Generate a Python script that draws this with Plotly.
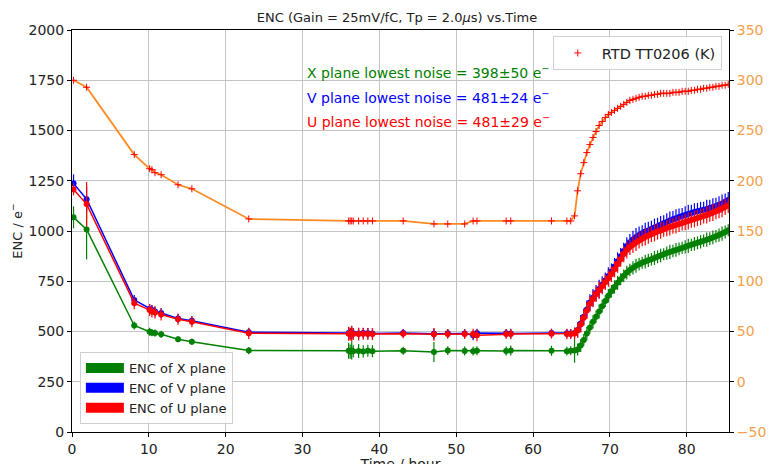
import plotly.graph_objects as go

# Zeitachse in Stunden
time_h = [0.2, 1.9, 8.1, 10.1, 10.4, 10.8, 11.6, 13.8, 15.6, 23.0,
          36.0, 36.2, 36.4, 36.6, 37.3, 37.9, 38.5, 39.1, 43.1, 47.1,
          48.9, 51.1, 52.2, 52.7, 56.5, 57.1, 62.4, 64.4, 64.9, 65.4,
          65.8, 66.2, 66.6, 67.0, 67.4, 67.8, 68.2, 68.6, 69.0, 69.4,
          69.8, 70.2, 70.6, 71.0, 71.4, 71.8, 72.2, 72.6, 73.0, 73.4,
          73.8, 74.2, 74.6, 75.0, 75.4, 75.8, 76.2, 76.6, 77.0, 77.4,
          77.8, 78.2, 78.6, 79.0, 79.4, 79.8, 80.2, 80.6, 81.0, 81.4,
          81.8, 82.2, 82.6, 83.0, 83.4, 83.8, 84.2, 84.6, 85.0, 85.4]

# RTD TT0206 Temperatur in K
temp_k = [300, 293, 226, 212, 211, 208, 206, 196, 192, 162,
          160, 160, 160, 160, 160, 160, 160, 160, 160, 157,
          157, 157, 160, 160, 160, 160, 160, 160, 160, 165,
          190, 207, 218, 228, 236, 243, 249, 255, 259, 263,
          266, 268, 270, 272, 274, 276, 278, 280, 281, 282,
          283, 284, 284, 285, 285, 286, 286, 287, 287, 287,
          287, 288, 288, 288, 289, 289, 289, 290, 290, 291,
          291, 292, 292, 293, 293, 294, 294, 295, 295, 296]

# ENC X plane
enc_x = [1068, 1008, 530, 499, 494, 492, 486, 461, 449, 405,
         404, 400, 406, 402, 403, 401, 404, 402, 404, 398,
         405, 403, 402, 404, 403, 405, 404, 402, 404, 405,
         410, 430, 458, 490, 520, 548, 574, 600, 626, 652,
         678, 700, 722, 742, 760, 777, 793, 806, 817, 827,
         835, 842, 848, 854, 859, 866, 872, 878, 884, 890,
         896, 901, 906, 911, 916, 921, 926, 931, 936, 941,
         946, 952, 957, 962, 968, 974, 980, 987, 995, 1004]
err_x = [55, 150, 20, 20, 18, 18, 18, 15, 15, 18,
         40, 35, 45, 30, 35, 30, 30, 30, 20, 50,
         22, 22, 22, 22, 22, 25, 25, 22, 22, 60,
         30, 32, 30, 34, 31, 33, 30, 35, 32, 30,
         34, 31, 33, 35, 30, 32, 34, 31, 33, 35,
         32, 30, 34, 33, 31, 35, 32, 34, 30, 33,
         35, 31, 34, 32, 30, 33, 35, 31, 34, 32,
         33, 30, 35, 32, 34, 31, 33, 35, 32, 30]

# ENC V plane
enc_v = [1237, 1158, 657, 612, 607, 600, 592, 565, 553, 496,
         492, 490, 493, 491, 490, 492, 491, 490, 492, 489,
         491, 490, 481, 492, 491, 490, 492, 491, 490, 493,
         508, 540, 574, 610, 644, 668, 691, 712, 733, 754,
         776, 798, 823, 849, 875, 900, 925, 944, 958, 970,
         980, 989, 997, 1003, 1010, 1017, 1024, 1031, 1038, 1045,
         1052, 1058, 1064, 1070, 1075, 1080, 1085, 1090, 1094, 1098,
         1102, 1106, 1110, 1114, 1119, 1124, 1130, 1137, 1145, 1154]
err_v = [45, 60, 25, 25, 25, 25, 25, 22, 22, 22,
         30, 28, 32, 26, 28, 26, 26, 26, 20, 26,
         22, 22, 24, 22, 22, 24, 22, 22, 22, 26,
         38, 42, 40, 44, 41, 43, 40, 45, 42, 40,
         44, 41, 43, 45, 40, 42, 44, 41, 43, 45,
         42, 40, 44, 43, 41, 45, 42, 44, 40, 43,
         45, 41, 44, 42, 40, 43, 45, 41, 44, 42,
         43, 40, 45, 42, 44, 41, 43, 45, 42, 40]

# ENC U plane
enc_u = [1207, 1134, 641, 607, 600, 595, 585, 561, 549, 491,
         489, 487, 490, 488, 487, 489, 488, 487, 489, 486,
         488, 487, 488, 481, 488, 487, 489, 488, 487, 490,
         505, 535, 568, 605, 638, 662, 685, 705, 725, 745,
         765, 785, 810, 835, 860, 885, 905, 920, 932, 943,
         953, 962, 970, 977, 984, 991, 997, 1003, 1009, 1015,
         1020, 1025, 1030, 1035, 1040, 1045, 1050, 1055, 1060, 1065,
         1070, 1075, 1080, 1086, 1092, 1098, 1105, 1112, 1120, 1128]
err_u = [30, 110, 30, 30, 30, 30, 30, 28, 28, 28,
         35, 32, 38, 30, 32, 30, 30, 30, 22, 32,
         24, 24, 26, 29, 24, 26, 24, 26, 24, 30,
         36, 40, 38, 42, 39, 41, 38, 43, 40, 38,
         42, 39, 41, 43, 38, 40, 42, 39, 41, 43,
         40, 38, 42, 41, 39, 43, 40, 42, 38, 41,
         43, 39, 42, 40, 38, 41, 43, 39, 42, 40,
         41, 38, 43, 40, 42, 39, 41, 43, 40, 38]

planes = [("X", enc_x, err_x, "green"),
          ("V", enc_v, err_v, "blue"),
          ("U", enc_u, err_u, "red")]
noise_text = [("X plane lowest noise = 398±50 e<sup>−</sup>", "green"),
              ("V plane lowest noise = 481±24 e<sup>−</sup>", "blue"),
              ("U plane lowest noise = 481±29 e<sup>−</sup>", "red")]

FONT = "DejaVu Sans"
ORANGE = "#f5a04a"
GRID = "#c4c4c4"

fig = go.Figure()

for name, enc, err, col in planes:
    fig.add_trace(go.Scatter(x=time_h, y=enc, mode="lines+markers",
                             line=dict(color=col, width=1.5),
                             marker=dict(color=col, size=6, symbol="circle"),
                             error_y=dict(type="data", array=err, color=col, thickness=1.2, width=0),
                             showlegend=False))

# Legenden-Patches (nur fuer die Legende)
for name, enc, err, col in planes:
    fig.add_trace(go.Scatter(x=[None], y=[None], mode="lines",
                             line=dict(color=col, width=10),
                             name=f"ENC of {name} plane", legend="legend2"))

# Temperatur auf zweiter y-Achse
fig.add_trace(go.Scatter(x=time_h, y=temp_k, mode="lines", yaxis="y2",
                         line=dict(color="#ff8a20", width=1.8), showlegend=False))
fig.add_trace(go.Scatter(x=time_h, y=temp_k, mode="markers", yaxis="y2",
                         marker=dict(symbol="cross-thin", size=5, line=dict(color="red", width=1)),
                         name="RTD TT0206 (K)", legend="legend"))

annotations = []
for i, (txt, col) in enumerate(noise_text):
    annotations.append(dict(text=txt, xref="paper", yref="paper", x=0.355, y=0.8955 - i * 0.061,
                            xanchor="left", yanchor="middle", showarrow=False,
                            font=dict(family=FONT, size=14, color=col)))

axis_common = dict(showline=True, linecolor="black", linewidth=1, ticks="outside", ticklen=4,
                   tickcolor="black", zeroline=False, automargin=False)

# Seite hat 8px Rand -> Plotflaeche bei 72..729 x 30..432 im Bild
fig.update_layout(
    width=778, height=464,
    margin=dict(l=64, r=57, t=22, b=40),
    paper_bgcolor="white", plot_bgcolor="white",
    font=dict(family=FONT, size=14, color="#222222"),
    title=dict(text="ENC (Gain = 25mV/fC, Tp = 2.0<i>μ</i>s) vs.Time", x=0.5, xanchor="center",
               y=0.98, yanchor="middle", font=dict(family=FONT, size=13, color="#222222")),
    xaxis=dict(range=[0, 85.5], dtick=10, showgrid=True, gridcolor=GRID, mirror=True,
               title=dict(text="Time / hour", standoff=1, font=dict(size=14)),
               tickfont=dict(size=14), **axis_common),
    yaxis=dict(range=[0, 2000], dtick=250, showgrid=True, gridcolor=GRID, mirror=False,
               title=dict(text="ENC / e<sup>−</sup>", standoff=3, font=dict(size=13)),
               tickfont=dict(size=14), **axis_common),
    yaxis2=dict(range=[-50, 350], dtick=50, overlaying="y", side="right", showgrid=False,
                title=dict(text="Temperature / K", font=dict(color=ORANGE, size=13), standoff=6),
                tickfont=dict(size=14, color=ORANGE), **axis_common),
    legend=dict(x=0.989, y=0.985, xanchor="right", yanchor="top", bgcolor="rgba(255,255,255,0.85)",
                bordercolor="#d0d0d0", borderwidth=1, font=dict(size=14.5), itemwidth=38),
    legend2=dict(x=0.012, y=0.02, xanchor="left", yanchor="bottom", bgcolor="rgba(255,255,255,0.85)",
                 bordercolor="#d0d0d0", borderwidth=1, font=dict(size=13), traceorder="normal",
                 itemwidth=38),
    annotations=annotations,
)

fig.write_html("out.html")
